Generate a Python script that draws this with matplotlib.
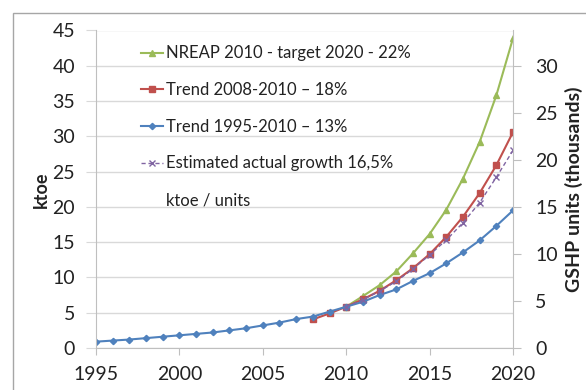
import matplotlib
matplotlib.use('Agg')
import matplotlib.pyplot as plt
from matplotlib.patches import Rectangle

years_hist = list(range(1995, 2021))
trend_1995 = [0.9, 1.05, 1.2, 1.4, 1.6, 1.8, 2.0, 2.2, 2.5, 2.8, 3.2, 3.6, 4.1,
              4.45, 5.15, 5.85, 6.55, 7.5, 8.3, 9.5, 10.6, 12.0, 13.55, 15.25, 17.3, 19.5]

years_2008 = list(range(2008, 2021))
trend_2008 = [4.05, 4.9, 5.85, 6.9, 8.1, 9.6, 11.3, 13.3, 15.75, 18.6, 21.95, 25.9, 30.6]

years_nreap = list(range(2010, 2021))
nreap = [5.85, 7.35, 8.9, 10.85, 13.4, 16.15, 19.6, 24.0, 29.2, 35.8, 43.9]

years_est = list(range(2010, 2021))
estimated = [5.85, 6.85, 8.05, 9.45, 11.2, 13.2, 15.3, 17.75, 20.6, 24.2, 28.0]

labels = ['NREAP 2010 - target 2020 - 22%',
          'Trend 2008-2010 \u2013 18%',
          'Trend 1995-2010 \u2013 13%',
          'Estimated actual growth 16,5%',
          'ktoe / units']

# ktoe per thousand units, used to scale the right axis
ktoe_per_unit = 45 / 33.75

plt.rcParams['font.family'] = ['Lato', 'DejaVu Sans']
grid_c = '#d9d9d9'
axis_c = '#bfbfbf'
text_c = '#222222'

fig = plt.figure(figsize=(5.86, 3.9), dpi=100)
fig.patch.set_facecolor('white')
fig.patches.append(Rectangle((13 / 586, -0.1), 1.2, 1 - 13 / 390 + 0.1,
                             transform=fig.transFigure, fill=False,
                             edgecolor='#a6a6a6', linewidth=1.0))

ax = fig.add_axes([96 / 586, 1 - 348 / 390, (513 - 96) / 586, (348 - 30.5) / 390])

ax.plot(years_nreap, nreap, color='#9bbb59', marker='^', markersize=5, linewidth=1.5, label=labels[0])
ax.plot(years_2008, trend_2008, color='#c0504d', marker='s', markersize=5, linewidth=1.5, label=labels[1])
ax.plot(years_hist, trend_1995, color='#4f81bd', marker='D', markersize=3.2, linewidth=1.5, label=labels[2])
ax.plot(years_est, estimated, color='#8064a2', marker='x', markersize=5, linewidth=1.0,
        linestyle=(0, (3, 2)), label=labels[3])
ax.plot([], [], linestyle='none', label=labels[4])

ax.set_xlim(1995, 2020)
ax.set_ylim(0, 45)
ax.set_xticks(range(1995, 2021, 5))
ax.set_yticks(range(0, 46, 5))
ax.grid(axis='y', color=grid_c, linewidth=1.0)
ax.set_axisbelow(True)
for s in ['top', 'right']:
    ax.spines[s].set_visible(False)
for s in ['left', 'bottom']:
    ax.spines[s].set_color(axis_c)
ax.tick_params(axis='y', length=7, color=grid_c, labelsize=14, labelcolor=text_c, pad=8)
ax.tick_params(axis='x', length=5, color=axis_c, labelsize=14, labelcolor=text_c, pad=8)
ax.set_ylabel('ktoe', fontsize=13, fontweight='bold', color=text_c, labelpad=2)

ax2 = ax.twinx()
ax2.set_ylim(0, 45 / ktoe_per_unit)
ax2.set_yticks(range(0, 31, 5))
for s in ['top', 'left', 'bottom']:
    ax2.spines[s].set_visible(False)
ax2.spines['right'].set_color(axis_c)
ax2.tick_params(axis='y', length=6, color=axis_c, labelsize=14, labelcolor=text_c, pad=10)
ax2.set_ylabel('GSHP units (thousands)', fontsize=14, fontweight='bold', color=text_c, labelpad=5)

leg = ax.legend(loc='upper left', bbox_to_anchor=(0.092, 0.974), frameon=False,
                fontsize=12, handlelength=1.3, handletextpad=0.2,
                labelspacing=1.24, borderaxespad=0)
for t in leg.get_texts():
    t.set_color(text_c)

fig.savefig('out.png', dpi=100)
